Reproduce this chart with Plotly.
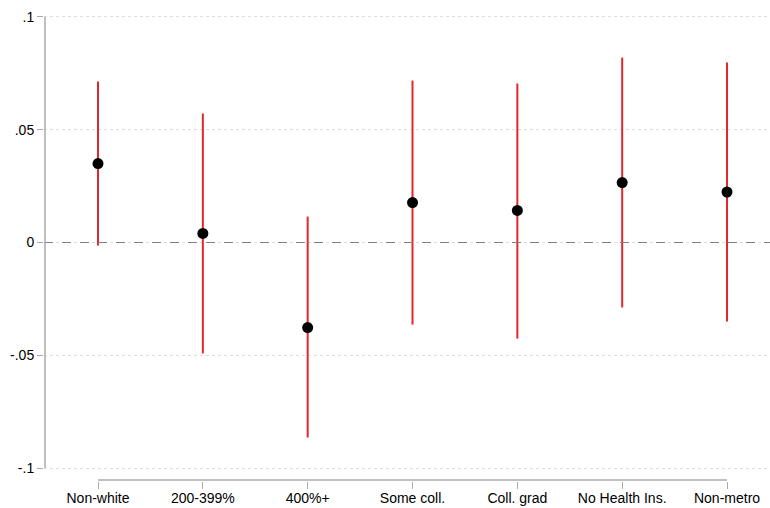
import plotly.graph_objects as go

categories = ["Non-white", "200-399%", "400%+", "Some coll.", "Coll. grad", "No Health Ins.", "Non-metro"]
estimate = [0.0350, 0.0040, -0.0377, 0.0177, 0.0142, 0.0266, 0.0224]
ci_low = [-0.0013, -0.0492, -0.0865, -0.0364, -0.0426, -0.0288, -0.0350]
ci_high = [0.0714, 0.0572, 0.0115, 0.0718, 0.0705, 0.0820, 0.0798]
ytick_vals = [-0.1, -0.05, 0, 0.05, 0.1]
ytick_text = ["-.1", "-.05", "0", ".05", ".1"]

xpos = list(range(len(categories)))
x_range = [-0.5151, 6.41]
y_axis_x = -0.5056

fig = go.Figure()
fig.add_trace(go.Scatter(
    x=xpos, y=estimate, mode="markers",
    marker=dict(color="black", size=11),
    error_y=dict(type="data", symmetric=False,
                 array=[h - e for h, e in zip(ci_high, estimate)],
                 arrayminus=[e - l for e, l in zip(estimate, ci_low)],
                 color="#e3262b", thickness=2, width=0),
    showlegend=False,
))

# zero reference line
fig.add_shape(type="line", xref="paper", yref="y", x0=0, x1=1, y0=0, y1=0,
              line=dict(color="#808080", width=1.2, dash="dash"), layer="above")
# y axis line (spans tick range only)
fig.add_shape(type="line", xref="x", yref="y", x0=y_axis_x, x1=y_axis_x,
              y0=min(ytick_vals), y1=max(ytick_vals),
              line=dict(color="#aaaaaa", width=1.5))
# x axis line (spans category range only)
fig.add_shape(type="line", xref="x", yref="paper", x0=0, x1=len(categories) - 1, y0=0.002, y1=0.002,
              line=dict(color="#aaaaaa", width=1.5))

fig.update_layout(
    width=770, height=508,
    margin=dict(l=44, r=0, t=10, b=27),
    plot_bgcolor="white", paper_bgcolor="white",
    font=dict(family="Liberation Sans, Arial, Helvetica, sans-serif", size=14, color="black"),
    xaxis=dict(range=x_range, tickvals=xpos, ticktext=categories,
               showgrid=False, zeroline=False, showline=False,
               ticks="outside", ticklen=7, tickcolor="#aaaaaa", tickwidth=1.2,
               ticklabelstandoff=-3),
    yaxis=dict(range=[-0.10576, 0.10310], tickvals=ytick_vals, ticktext=ytick_text,
               showgrid=True, gridcolor="#dddddd", griddash="dot", gridwidth=1,
               zeroline=False, showline=False,
               ticks="outside", ticklen=6, tickcolor="#aaaaaa", tickwidth=1.2),
)

fig.write_html("out.html")
